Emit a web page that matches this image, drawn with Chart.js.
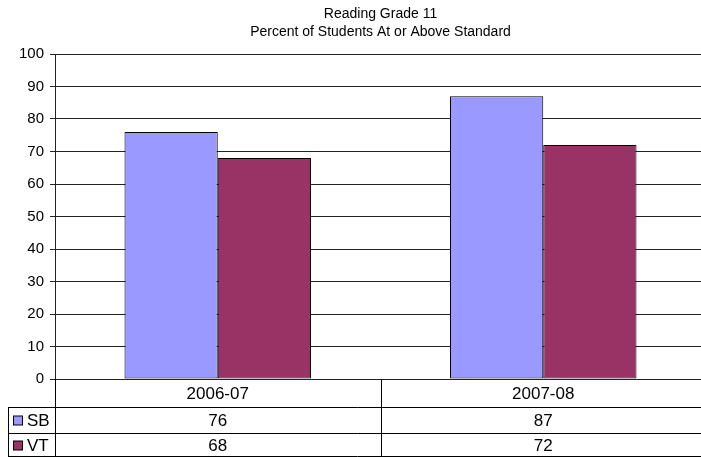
<!DOCTYPE html>
<html>
<head>
<meta charset="utf-8">
<script src="https://cdn.jsdelivr.net/npm/chart.js@4"></script>
<style>
  html, body { margin: 0; padding: 0; background: #fff; overflow: hidden; width: 701px; height: 457px; }
  #myChart { display: block; }
</style>
</head>
<body>
<canvas id="myChart" width="706" height="457"></canvas>
<script>
// dados do gráfico
var categories = ['2006-07', '2007-08'];
var seriesNames = ['SB', 'VT'];
var sbValues = [76, 87];
var vtValues = [68, 72];
var yMin = 0, yMax = 100, yStep = 10;

var colors = ['#9999FF', '#993366'];
var fontFamily = '"Liberation Sans", Arial, sans-serif';

// tabela de dados embaixo do gráfico (estilo Excel)
var dataTable = {
    id: 'dataTable',
    afterDraw: function(chart) {
        var ctx = chart.ctx;
        var area = chart.chartArea;
        var x = chart.scales.x;
        var half = (area.right - area.left) / categories.length / 2;
        var right = chart.width;
        var row1 = area.bottom + 28;
        var row2 = row1 + 26;
        var row3 = chart.height - 0.5;
        var boxLeft = 8.5;
        var rows = [sbValues, vtValues];

        ctx.save();
        ctx.strokeStyle = '#000';
        ctx.lineWidth = 1;
        ctx.beginPath();
        // linhas verticais
        ctx.moveTo(Math.round(area.left) + 0.5, area.bottom);
        ctx.lineTo(Math.round(area.left) + 0.5, chart.height);
        for (var i = 1; i < categories.length; i++) {
            var bx = Math.round(x.getPixelForValue(i) - half) + 0.5;
            ctx.moveTo(bx, area.bottom);
            ctx.lineTo(bx, chart.height);
        }
        ctx.moveTo(boxLeft, row1);
        ctx.lineTo(boxLeft, chart.height);
        // linhas horizontais
        ctx.moveTo(boxLeft, Math.round(row1) + 0.5);
        ctx.lineTo(right, Math.round(row1) + 0.5);
        ctx.moveTo(boxLeft, Math.round(row2) + 0.5);
        ctx.lineTo(right, Math.round(row2) + 0.5);
        ctx.moveTo(boxLeft, row3);
        ctx.lineTo(right, row3);
        ctx.stroke();

        ctx.fillStyle = '#000';
        ctx.textBaseline = 'middle';
        ctx.textAlign = 'center';
        ctx.font = '17px ' + fontFamily;
        for (var c = 0; c < categories.length; c++) {
            var cx = x.getPixelForValue(c);
            ctx.fillText(categories[c], cx, (area.bottom + row1) / 2 + 1);
            ctx.fillText(String(rows[0][c]), cx, (row1 + row2) / 2 + 1);
            ctx.fillText(String(rows[1][c]), cx, (row2 + chart.height) / 2 + 1);
        }

        // legenda
        var ys = [(row1 + row2) / 2, (row2 + chart.height) / 2];
        ctx.textAlign = 'left';
        for (var s = 0; s < seriesNames.length; s++) {
            ctx.fillStyle = colors[s];
            ctx.fillRect(13.5, ys[s] - 4, 9, 9);
            ctx.strokeStyle = '#000';
            ctx.strokeRect(13.5, ys[s] - 4, 9, 9);
            ctx.fillStyle = '#000';
            ctx.fillText(seriesNames[s], 27, ys[s] + 1);
        }
        ctx.restore();
    }
};

var ctx = document.getElementById('myChart').getContext('2d');
var myChart = new Chart(ctx, {
    type: 'bar',
    data: {
        labels: categories,
        datasets: [{
            label: seriesNames[0],
            data: sbValues,
            backgroundColor: colors[0],
            borderColor: '#000',
            borderWidth: 1,
            borderSkipped: false
        }, {
            label: seriesNames[1],
            data: vtValues,
            backgroundColor: colors[1],
            borderColor: '#000',
            borderWidth: 1,
            borderSkipped: false
        }]
    },
    options: {
        responsive: false,
        animation: false,
        layout: { padding: 0 },
        datasets: {
            bar: { categoryPercentage: 0.573, barPercentage: 1 }
        },
        plugins: {
            legend: { display: false },
            tooltip: { enabled: false },
            title: {
                display: true,
                fullSize: false,
                text: ['Reading Grade 11', 'Percent of Students At or Above Standard'],
                color: '#000',
                font: { family: fontFamily, size: 14, weight: 'normal', lineHeight: 1.3 },
                padding: { top: 5, bottom: 12.6 }
            }
        },
        scales: {
            x: {
                grid: { display: false },
                border: { display: false },
                ticks: { display: false },
                afterFit: function(scale) { scale.height = 78; }
            },
            y: {
                min: yMin,
                max: yMax,
                ticks: {
                    stepSize: yStep,
                    color: '#000',
                    padding: 6,
                    font: { family: fontFamily, size: 15 }
                },
                grid: { color: '#222', tickLength: 5, tickColor: '#222' },
                border: { color: '#222' },
                afterFit: function(scale) { scale.width = 55; }
            }
        }
    },
    plugins: [dataTable]
});
</script>
</body>
</html>
